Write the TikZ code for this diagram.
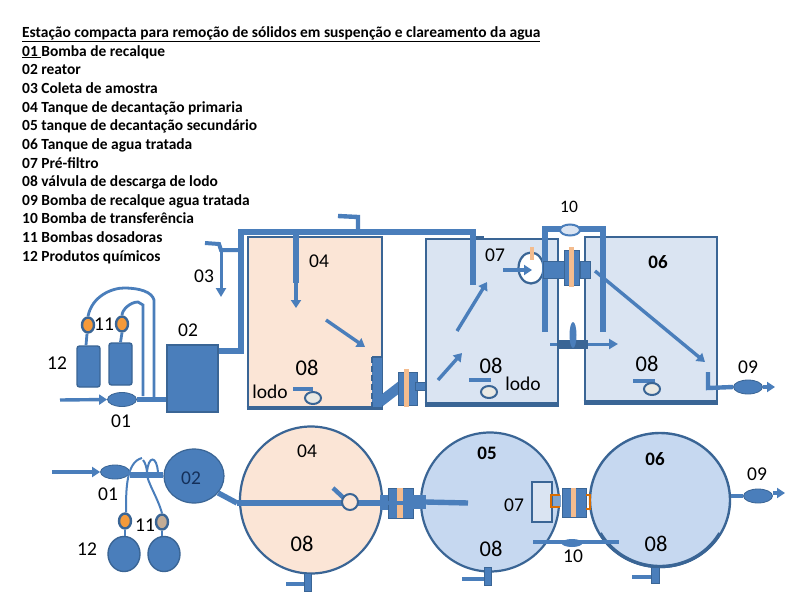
\documentclass[tikz,border=0pt]{standalone}
\usepackage{fontspec}
\setmainfont{Carlito}
\usetikzlibrary{shapes.geometric,arrows.meta}
\definecolor{pipeblue}{HTML}{4A7EBB}
\definecolor{edgeblue}{HTML}{3A6595}
\definecolor{peach}{HTML}{FBE5D6}
\definecolor{band}{HTML}{F4BC8E}
\definecolor{paleblue}{HTML}{DAE4F2}
\definecolor{roundblue}{HTML}{C6D8F0}
\definecolor{dosing}{HTML}{F59A3A}
\definecolor{valvefill}{HTML}{E9E9E4}
\definecolor{darktext}{HTML}{14305A}
\tikzset{
  tanksq/.style={rectangle,draw=edgeblue,line width=2.8pt,inner sep=0pt},
  tankrd/.style={ellipse,draw=edgeblue,line width=2.2pt,inner sep=0pt},
  solidbox/.style={rectangle,fill=pipeblue,draw=edgeblue,line width=1.4pt,inner sep=0pt},
  bottle/.style={rectangle,rounded corners=2.5pt,fill=pipeblue,draw=edgeblue,line width=1.4pt,inner sep=0pt},
  pumpov/.style={ellipse,fill=pipeblue,draw=edgeblue,line width=.8pt,inner sep=0pt,minimum width=29pt,minimum height=14pt},
  doser/.style={ellipse,fill=dosing,draw=edgeblue,line width=2.4pt,inner sep=0pt,minimum width=12pt,minimum height=15pt},
  sludge/.style={ellipse,fill=valvefill,draw=edgeblue,line width=2pt,inner sep=0pt,minimum width=16pt,minimum height=12pt},
  pipe/.style={draw=pipeblue,line width=5.4pt},
  thin/.style={draw=pipeblue,line width=2.8pt},
  flow/.style={draw=pipeblue,line width=3.4pt,-{Triangle[length=8pt,width=10pt]}},
  flowb/.style={draw=pipeblue,line width=3pt,-{Triangle[length=9pt,width=10pt]}},
  lbl/.style={inner sep=0pt,font=\fontsize{19.5}{21}\selectfont,text=black},
  lblb/.style={inner sep=0pt,font=\fontsize{22.5}{24}\selectfont,text=black},
  lbls/.style={inner sep=0pt,font=\fontsize{17.5}{19}\selectfont,text=black},
  lblk/.style={inner sep=0pt,font=\fontsize{19}{20}\selectfont\bfseries,text=black},
  listline/.style={inner sep=0pt,anchor=base west,font=\fontsize{15.45}{17}\selectfont\bfseries,text=black},
  flangebody/.style={rectangle,fill=pipeblue,draw=edgeblue,line width=1pt,inner sep=0pt},
  bandbar/.style={rectangle,fill=band,inner sep=0pt},
}
\begin{document}
\begin{tikzpicture}[x=1pt,y=-1pt]
\useasboundingbox[fill=white] (0,0) rectangle (800,600);

% ---------- list
\node[listline] (title) at (22,37) {\underline{Estação compacta para remoção de sólidos em suspenção e clareamento da agua}};
\node[listline] (l01) at (22,56) {\underline{01\ }Bomba de recalque};
\node[listline] (l02) at (22,74.5) {02 reator};
\node[listline] (l03) at (22,93) {03 Coleta de amostra};
\node[listline] (l04) at (22,112) {04 Tanque de decantação primaria};
\node[listline] (l05) at (22,130.5) {05 tanque de decantação secundário};
\node[listline] (l06) at (22,149) {06 Tanque de agua tratada};
\node[listline] (l07) at (22,168) {07 Pré-filtro};
\node[listline] (l08) at (22,186.5) {08 válvula de descarga de lodo};
\node[listline] (l09) at (22,205) {09 Bomba de recalque agua tratada};
\node[listline] (l10) at (22,223.5) {10 Bomba de transferência};
\node[listline] (l11) at (22,242) {11 Bombas dosadoras};
\node[listline] (l12) at (22,261) {12 Produtos químicos};

% ---------- top view: tanks
\node[tanksq,fill=peach,minimum width=134pt,minimum height=170pt] (t04) at (315,322) {};
\node[tanksq,fill=paleblue,minimum width=132pt,minimum height=164pt] (t05) at (492,321) {};
\node[tanksq,fill=paleblue,minimum width=132pt,minimum height=164pt] (t06) at (651,319) {};
\draw[edgeblue,line width=4.5pt] (t05.south west) -- (t05.south east);
\draw[edgeblue,line width=4.5pt] (t06.south west) -- (t06.south east);
\draw[edgeblue,line width=4pt] (t04.south west) -- (t04.south east);

% reactor, bottles, dosers, pump
\node[solidbox,minimum width=51pt,minimum height=67pt] (r02) at (192.5,378.5) {};
\node[bottle,minimum width=23pt,minimum height=41pt] (b1) at (88.5,366.5) {};
\node[bottle,minimum width=23pt,minimum height=42pt] (b2) at (120.5,364) {};
\node[doser] (d1) at (88,325) {};
\node[doser] (d2) at (122,324) {};
\node[pumpov] (p01) at (122,399.5) {};
\coordinate (in01) at (60,400);
\draw[flow] (in01) -- (p01.west);
\draw[pipe] (p01.east) -- (r02.west |- p01.east);
\draw[thin] (d1.south) ++(-1,0) -- (b1.north -| 86,0);
\draw[thin] (d2.south) -- (b2.north);
\coordinate (j1) at (154,397);
\coordinate (j2) at (143,396);
\draw[thin] (d1.north) .. controls (92,296) and (112,288) .. (124,288) .. controls (140,288) and (152,292) .. (154,300) -- (j1);
\draw[thin] (d2.north) .. controls (122,310) and (130,302) .. (138,302) -- (143,305) -- (j2);

% main pipe
\coordinate (a1) at (241,351);
\coordinate (a2) at (241,232);
\coordinate (a3) at (473,232);
\coordinate (a4) at (473,285);
\coordinate (a5) at (296,232);
\coordinate (a6) at (296,283);
\coordinate (a7) at (296,308);
\draw[pipe,line join=miter] (r02.east |- a1) -- (a1) -- (a2) -- (a3) -- (a4);
\draw[pipe] (a5) -- (a6);
\draw[flow] (a6) -- (a7);
\draw[edgeblue,line width=2pt] (476,237) -- (484,237);

% sample tap on top
\coordinate (s1) at (338,216);
\coordinate (s2) at (358,217);
\coordinate (s3) at (358,232);
\draw[pipe,line width=4.4pt] (s1) -- (s2) -- (s3);
\draw[pipeblue,line width=5pt] (350,231.5) -- (362,231.5);

% sample 03
\coordinate (c1) at (205,243);
\coordinate (c2) at (219,244);
\coordinate (c3) at (241,250);
\coordinate (c4) at (221,250);
\coordinate (c5) at (221,297);
\draw[pipe,line width=4pt] (c1) -- (c2) -- (221,250) -- (c3);
\draw[flowb] (c4) -- (c5);
\draw[pipeblue,line width=6.5pt] (241,243) -- (241,262);

% tank 04 internals
\coordinate (f1) at (326,320);
\coordinate (f2) at (365,347);
\draw[flow] (f1) -- (f2);
\node[rectangle,fill=pipeblue,inner sep=0pt,minimum width=10pt,minimum height=50pt] (col) at (377,382) {};
\draw[edgeblue,line width=2pt,dash pattern=on 6pt off 3pt] (col.north west) -- (col.south west);
\draw[edgeblue,line width=1.5pt] (col.north west) -- (col.north east);
\coordinate (dg) at (402,385);
\draw[pipeblue,line width=10pt] (380,402) -- (dg);
\node[flangebody,minimum width=19pt,minimum height=33pt] (fl1) at (407.5,388.5) {};
\node[flangebody,minimum width=10pt,minimum height=8pt] (cap1) at (420,386) {};
\node[bandbar,minimum width=5pt,minimum height=38pt] (bd1) at (406.5,388) {};
\draw[pipeblue,line width=5pt] (417,386) -- (t05.west |- 0,386);

% sludge valves top
\draw[pipe,line width=4.4pt] (293,389) -- (313,389);
\node[sludge] (v1) at (313,398) {};
\draw[pipe,line width=4.4pt] (469,380) -- (491,380);
\node[sludge] (v2) at (489,392) {};
\draw[pipe,line width=4.4pt] (633,381) -- (655,381);
\node[sludge] (v3) at (652,389) {};

% tank 05 internals
\coordinate (g1) at (438,380);\coordinate (g2) at (462,353);
\draw[flow] (g1) -- (g2);
\coordinate (g3) at (457,331);\coordinate (g4) at (487,282);
\draw[flow] (g3) -- (g4);
\node[ellipse,fill=white,draw=edgeblue,line width=2.2pt,inner sep=0pt,minimum width=25pt,minimum height=31pt] (f07) at (531,268) {};
\coordinate (g5) at (503,270);
\draw[flow] (g5) -- (532,270);
\draw[band,line width=4pt] (532,247) -- (532,260);

% transfer pipe over tanks
\coordinate (h1) at (545,332);\coordinate (h2) at (545,229);
\coordinate (h3) at (603,229);\coordinate (h4) at (603,332);
\draw[pipe,line join=miter] (h1) -- (h2) -- (h3) -- (h4);
\node[ellipse,fill=paleblue,draw=pipeblue,line width=2pt,inner sep=0pt,minimum width=20pt,minimum height=11pt] (p10) at (570,230) {};

% filter across tanks
\node[rectangle,fill=pipeblue,draw=edgeblue,line width=.8pt,inner sep=0pt,minimum width=22pt,minimum height=17pt] (fp) at (554,269.5) {};
\node[flangebody,minimum width=15pt,minimum height=35pt] (fl2) at (571.5,267.5) {};
\node[flangebody,minimum width=10pt,minimum height=17pt] (cap2) at (585,269.5) {};
\node[bandbar,minimum width=5pt,minimum height=40pt] (bd2) at (571,267) {};

% gap fitting
\coordinate (k1) at (550,344);\coordinate (k2) at (618,344);
\draw[flowb] (k1) -- (k2);
\draw[edgeblue,line width=9pt] (557,344) -- (588,344);
\node[ellipse,fill=pipeblue,inner sep=0pt,minimum width=7pt,minimum height=26pt] (bump) at (573,335) {};

% long arrow and outlet
\coordinate (m1) at (595,271);\coordinate (m2) at (705,362);
\draw[flow] (m1) -- (m2);
\coordinate (o1) at (708,372);\coordinate (o2) at (708,388);
\node[pumpov] (p09) at (748,387) {};
\coordinate (o3) at (775,387);
\draw[pipe,line width=4.4pt] (o1) -- (o2) -- (p09.west);
\draw[flow] (p09.east) -- (o3);

% ---------- plan view
\node[tankrd,fill=peach,minimum width=142pt,minimum height=147pt] (c04) at (311,500) {};
\node[tankrd,fill=roundblue,minimum width=138pt,minimum height=139pt] (c05) at (490,502) {};
\node[tankrd,fill=roundblue,minimum width=140pt,minimum height=134pt,line width=2.4pt] (c06) at (660,500) {};
\draw[edgeblue,line width=3.4pt] (660,500) ++(30:69 and 66.5) arc[start angle=30,end angle=150,x radius=69,y radius=66.5];

\node[ellipse,fill=pipeblue,draw=edgeblue,line width=1.2pt,inner sep=0pt,minimum width=60pt,minimum height=54pt] (r02b) at (194,476) {};
\node[pumpov] (p01b) at (115,472) {};
\coordinate (in01b) at (52,472);
\draw[flow] (in01b) -- (p01b.west);
\draw[pipe] (130,475) -- (r02b.west |- 0,475);
\coordinate (n1) at (237,503);
\draw[pipe,line width=5.4pt] (r02b.-35) -- (n1);
\draw[pipe] (n1) -- (383,503);
\coordinate (n3) at (333,488);
\draw[pipe,line width=4.4pt] (n3) -- (348,502);
\node[sludge,fill=peach,minimum width=16pt,minimum height=16pt] (vc) at (350,502) {};

% dosing plan
\node[doser] (d3) at (125,521) {};
\node[doser,fill=dosing!35!gray!70] (d4) at (162,522) {};
\node[ellipse,fill=pipeblue,draw=edgeblue,line width=1.4pt,inner sep=0pt,minimum width=32pt,minimum height=35pt] (b3) at (124,554) {};
\node[ellipse,fill=pipeblue,draw=edgeblue,line width=1.4pt,inner sep=0pt,minimum width=32pt,minimum height=35pt] (b4) at (164,554) {};
\draw[thin] (d3.south) -- (b3.north -| d3.south);
\draw[thin] (d4.south) -- (b4.north -| d4.south);
\coordinate (q1) at (142,458);
\coordinate (q2) at (143,460);
\draw[thin,line width=2pt] (d3.north) ++(1,0) .. controls (126,490) and (126,462) .. (q1);
\draw[thin,line width=2pt] (d4.north) .. controls (158,498) and (146,480) .. (147,473) .. controls (147,468) and (145,462) .. (q2);
\draw[thin,line width=2pt] (147,473) .. controls (148,455) and (157,455) .. (158,473);

% flange 04-05
\node[flangebody,minimum width=25pt,minimum height=30pt] (fl3) at (400.5,503) {};
\node[bandbar,minimum width=6pt,minimum height=30pt] (bd3) at (400,503) {};
\draw[pipeblue,line width=4pt] (388,503) -- (413,503);
\node[rectangle,fill=pipeblue,inner sep=0pt,minimum width=8pt,minimum height=15pt] (cl) at (384,502.5) {};
\node[rectangle,fill=pipeblue,inner sep=0pt,minimum width=13pt,minimum height=14pt] (cr) at (419,502) {};
\coordinate (u1) at (468,503);
\draw[pipe] (cr.east) -- (u1);

% prefilter plan
\fill[pipeblue!70!white] (551,495) rectangle (561,507);
\node[rectangle,fill=paleblue,draw=edgeblue,line width=2pt,inner sep=0pt,minimum width=20pt,minimum height=40pt] (pf) at (542,502) {};
\draw[orange!85!black,line width=2.6pt] (560,495) -- (551,495) -- (551,507) -- (560,507);
\node[flangebody,minimum width=24pt,minimum height=29pt] (fl4) at (574,502.5) {};
\node[bandbar,minimum width=5pt,minimum height=29pt] (bd4) at (573.5,502.5) {};
\draw[orange!85!black,line width=2.6pt] (586,495) -- (590,495) -- (590,509) -- (586,509);

% transfer plan
\coordinate (w1) at (533,542);\coordinate (w2) at (619,542);
\draw[pipe,line width=4.4pt] (w1) -- (w2);
\node[ellipse,fill=pipeblue,inner sep=0pt,minimum width=21pt,minimum height=8pt] (p10b) at (572,543) {};

% drains
\coordinate (x1) at (286,584);\coordinate (x2) at (462,579);\coordinate (x3) at (632,577);
\node[rectangle,fill=pipeblue,draw=edgeblue,line width=.6pt,inner sep=0pt,minimum width=7pt,minimum height=18pt] (dr1) at (308,582) {};
\node[rectangle,fill=pipeblue,draw=edgeblue,line width=.6pt,inner sep=0pt,minimum width=7pt,minimum height=18pt] (dr2) at (488,576) {};
\node[rectangle,fill=pipeblue,draw=edgeblue,line width=.6pt,inner sep=0pt,minimum width=8pt,minimum height=16pt] (dr3) at (655,575) {};
\draw[pipe,line width=4.4pt] (x1) -- (dr1.west |- x1);
\draw[pipe,line width=4.4pt] (x2) -- (dr2.west |- x2);
\draw[pipe,line width=4.4pt] (x3) -- (dr3.west |- x3);

% outlet plan
\node[pumpov] (p09b) at (758,496) {};
\draw[pipe,line width=4.4pt] (c06.east |- p09b) -- (p09b.west);
\coordinate (y1) at (785,493);
\draw[flow] (p09b.east |- y1) -- (y1);

% ---------- labels
\node[lbl] (n03) at (204,276) {03};
\node[lbl] (n02) at (188,330) {02};
\node[lbl] (n12) at (57,363) {12};
\node[lbl] (n11) at (104,324) {11};
\node[lbl] (n01) at (121,421) {01};
\node[lbl] (n04) at (319,261) {04};
\node[lblb] (n08a) at (307,368) {08};
\node[lbl] (nl1) at (270,392) {lodo};
\node[lbl] (n07) at (495,255) {07};
\node[lblb] (n08b) at (491,366) {08};
\node[lbl] (nl2) at (523,384) {lodo};
\node[lbls] (n10) at (569,207) {10};
\node[lblk] (n06) at (658,262) {06};
\node[lblb] (n08c) at (647,364) {08};
\node[lbl] (n09) at (748,367) {09};

\node[lbl,text=darktext] (m02) at (191,478) {02};
\node[lbl] (m01) at (108,494) {01};
\node[lbl] (m11) at (145,525) {11};
\node[lbl] (m12) at (87,549) {12};
\node[lbl] (m04) at (307,451) {04};
\node[lblb] (m08a) at (302,544) {08};
\node[lblk] (m05) at (487,453) {05};
\node[lblk] (m06) at (655,459) {06};
\node[lbl] (m07) at (514,505) {07};
\node[lblb] (m08b) at (491,549) {08};
\node[lblb] (m08c) at (656,544) {08};
\node[lbl] (m10) at (573,556) {10};
\node[lbl] (m09) at (757,474) {09};
\end{tikzpicture}
\end{document}
